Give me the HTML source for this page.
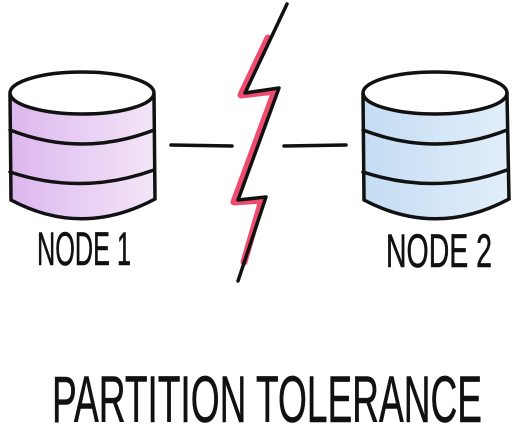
<!DOCTYPE html>
<html><head><style>html,body{margin:0;padding:0;background:#fff;}svg{display:block}</style></head>
<body>
<svg width="531" height="432" viewBox="0 0 531 432" xmlns="http://www.w3.org/2000/svg">
<defs>
<linearGradient id="pg" x1="0" x2="1"><stop offset="0" stop-color="#dcb6ee"/><stop offset="1" stop-color="#f3e6f8"/></linearGradient>
<linearGradient id="bg" x1="0" x2="1"><stop offset="0" stop-color="#c4dcf3"/><stop offset="1" stop-color="#e2eefa"/></linearGradient>
</defs>
<g stroke="#111" stroke-width="3.5" fill="none" stroke-linecap="round">
<path d="M10,94 L10,198 Q82,242 154,198 L154,94 Q82,136 10,94Z" fill="url(#pg)" stroke="none"/>
<ellipse cx="82" cy="93" rx="72" ry="21" fill="#fff"/>
<path d="M10,94 L11,200 Q82,238 155,199 L154,94"/>
<path d="M10,130 Q82,158 154,130"/>
<path d="M10,172 Q82,196 154,170"/>
<path d="M363,94 L364,198 Q436,242 508,198 L507,94 Q436,136 363,94Z" fill="url(#bg)" stroke="none"/>
<ellipse cx="435" cy="93" rx="72" ry="21" fill="#fff"/>
<path d="M363,94 L364,200 Q436,238 509,199 L507,94"/>
<path d="M363,130 Q436,158 507,130"/>
<path d="M363,172 Q436,196 507,170"/>
<path d="M171,145 L232,146"/>
<path d="M284,146 L346,145"/>
<path d="M268,38 L241,95 L275,91 L234,202 L262,200 L244,262" stroke="#ec2b55" stroke-width="7" stroke-linejoin="round" opacity="0.85"/>
<path d="M287,4 L245,93 L279,88 L238,200 L266,197 L238,281" stroke-linejoin="round"/>
</g>
<g font-family="Liberation Sans, sans-serif" fill="#111" stroke="#111" stroke-width="0.6">
<text x="37" y="265" font-size="47" textLength="94" lengthAdjust="spacingAndGlyphs">NODE 1</text>
<text x="386" y="267" font-size="47" textLength="106" lengthAdjust="spacingAndGlyphs">NODE 2</text>
<text x="52" y="422" font-size="66" textLength="430" lengthAdjust="spacingAndGlyphs">PARTITION TOLERANCE</text>
</g>
</svg>
</body></html>
